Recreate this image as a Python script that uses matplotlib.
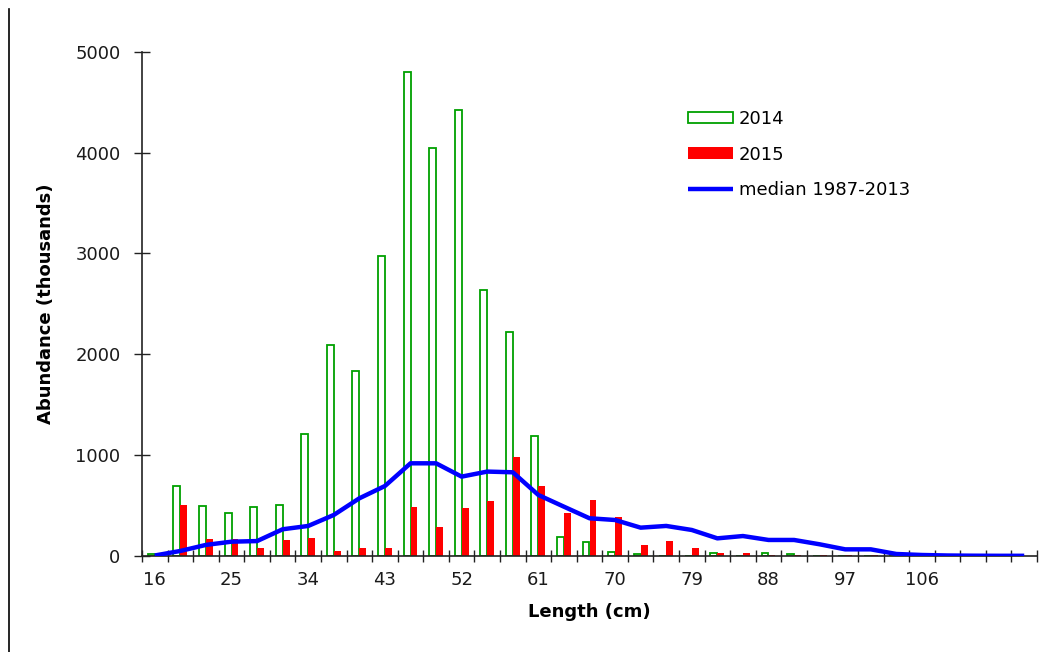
import matplotlib
matplotlib.use("Agg")
import matplotlib.pyplot as plt
from matplotlib.lines import Line2D
import numpy as np

plt.rcParams['font.family'] = ['DejaVu Sans']

lengths = list(range(16, 119, 3))
abund_2014 = [20, 690, 500, 425, 490, 510, 1210, 2090, 1835, 2970, 4800, 4045, 4425,
              2635, 2220, 1185, 190, 135, 40, 20, 0, 0, 25, 0, 25, 15, 0, 0, 0, 0,
              0, 0, 0, 0, 0]
abund_2015 = [0, 505, 170, 165, 75, 160, 180, 45, 75, 75, 485, 285, 475,
              545, 980, 695, 425, 555, 385, 105, 150, 80, 30, 30, 10, 5, 5, 5, 5, 0,
              0, 0, 0, 0, 0]
median_1987_2013 = [5, 50, 110, 142, 148, 265, 298, 407, 572, 694, 919, 919, 787,
                    837, 830, 605, 489, 374, 357, 281, 298, 258, 175, 198, 159, 159,
                    116, 66, 66, 20, 10, 5, 3, 2, 2]
tick_labels = ['16', '25', '34', '43', '52', '61', '70', '79', '88', '97', '106']
yticks = [0, 1000, 2000, 3000, 4000, 5000]

W, H = 1054, 652
fig = plt.figure(figsize=(W / 100, H / 100), dpi=100)
ax = fig.add_axes([142 / W, 1 - 556 / H, (1037 - 142) / W, (556 - 51.7) / H])

x = np.arange(len(lengths))
bw = 0.27
b14 = ax.bar(x - bw / 2, abund_2014, width=bw, facecolor='white', edgecolor='#00A000',
             linewidth=1.3, label='2014', zorder=2)
b15 = ax.bar(x + bw / 2, abund_2015, width=bw, color='#FF0000', edgecolor='none',
             label='2015', zorder=2)
ln, = ax.plot(x, median_1987_2013, color='#0000FF', linewidth=3.2,
              label='median 1987-2013', zorder=3, solid_capstyle='butt')

ax.set_xlim(-0.5, len(lengths) - 0.5)
ax.set_ylim(0, 5000)
ax.set_yticks(yticks)
ax.set_yticklabels([str(v) for v in yticks])

label_idx = [lengths.index(int(t)) for t in tick_labels]
ax.set_xticks(label_idx)
ax.set_xticklabels(tick_labels)
ax.set_xticks(np.arange(len(lengths) + 1) - 0.5, minor=True)
ax.tick_params(axis='x', which='major', length=0, pad=11, labelsize=13, colors='#1a1a1a')
ax.tick_params(axis='x', which='minor', direction='inout', length=9, width=1, color='#222222')
ax.tick_params(axis='y', direction='inout', length=11, width=1, pad=10, labelsize=13,
               colors='#222222', labelcolor='#1a1a1a')

for s in ['top', 'right']:
    ax.spines[s].set_visible(False)
for s in ['left', 'bottom']:
    ax.spines[s].set_color('#222222')
    ax.spines[s].set_linewidth(1.2)

ax.set_ylabel('Abundance (thousands)', fontsize=13, fontweight='bold')
ax.yaxis.set_label_coords((46 - 142) / (1037 - 142), 0.5)
ax.set_xlabel('Length (cm)', fontsize=13, fontweight='bold')
ax.xaxis.set_label_coords(0.5, (556 - 612) / (556 - 51.7))
ax.xaxis.label.set_va('center')
ax.yaxis.label.set_va('center')

leg = ax.legend(handles=[b14, b15, ln], labels=['2014', '2015', 'median 1987-2013'],
                loc='upper left', bbox_to_anchor=(688 / W, 1 - 110 / H),
                bbox_transform=fig.transFigure, frameon=False, fontsize=13,
                handlelength=2.5, handletextpad=0.3, labelspacing=0.97,
                borderpad=0, borderaxespad=0, handleheight=0.6)

fig.add_artist(Line2D([8.5 / W, 8.5 / W], [1 - 9 / H, 0], color='black', linewidth=1.2,
                      transform=fig.transFigure))

fig.savefig('out.png', dpi=100)
